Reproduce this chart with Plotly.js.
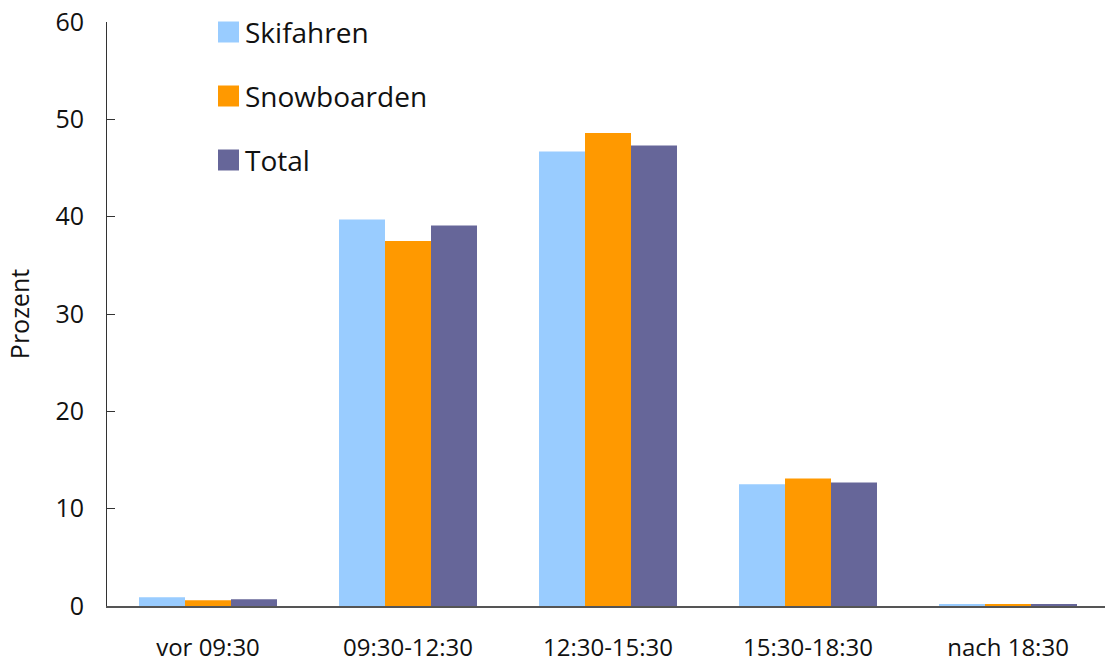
<!DOCTYPE html>
<html>
<head>
<meta charset="utf-8">
<script src="https://cdn.plot.ly/plotly-3.0.1.min.js"></script>
<style>html,body{margin:0;padding:0;background:#fff;}#chart{width:1105px;height:664px;}</style>
</head>
<body>
<div id="chart"></div>
<script>
var categories = ["vor 09:30", "09:30-12:30", "12:30-15:30", "15:30-18:30", "nach 18:30"];
var seriesNames = ["Skifahren", "Snowboarden", "Total"];
var skifahren = [0.9, 39.7, 46.7, 12.5, 0.2];
var snowboarden = [0.6, 37.5, 48.6, 13.1, 0.2];
var total = [0.7, 39.1, 47.3, 12.7, 0.2];
var colors = ["#99CCFF", "#FF9900", "#666699"];
var yTicks = [0, 10, 20, 30, 40, 50, 60];

var FONT = "Open Sans, sans-serif";
var values = [skifahren, snowboarden, total];
var traces = values.map(function (v, i) {
  return {
    type: "bar", x: categories, y: v, name: seriesNames[i],
    marker: {color: colors[i], line: {width: 0}},
    showlegend: false, hoverinfo: "x+y+name"
  };
});

// manual legend (paper coords; plot area spans px 107..1105 horizontally, 22..606 vertically)
var shapes = seriesNames.map(function (n, i) {
  var yc = 32 + i * 64;
  return {type: "rect", xref: "paper", yref: "paper",
    x0: (218 - 107) / 998, x1: (239 - 107) / 998,
    y0: (606 - (yc + 10.5)) / 584, y1: (606 - (yc - 10.5)) / 584,
    fillcolor: colors[i], line: {width: 0}};
});
var annotations = seriesNames.map(function (n, i) {
  var yc = 32 + i * 64;
  return {xref: "paper", yref: "paper", x: (243 - 107) / 998,
    y: (606 - yc) / 584, xanchor: "left", yanchor: "middle", showarrow: false,
    text: n, font: {family: FONT, size: 28, color: "#111"}};
});

var layout = {
  width: 1105, height: 664,
  margin: {l: 107, r: 0, t: 22, b: 58, pad: 0},
  paper_bgcolor: "#fff", plot_bgcolor: "#fff",
  barmode: "group", bargap: 0.31, bargroupgap: 0,
  font: {family: FONT, color: "#111"},
  xaxis: {
    range: [-0.505, 4.485], showgrid: false, zeroline: false,
    showline: true, linecolor: "#555", linewidth: 2, ticks: "",
    tickfont: {family: FONT, size: 24, color: "#111"}, ticklabelstandoff: 19
  },
  yaxis: {
    range: [0, 60], tickvals: yTicks, ticktext: yTicks.map(String),
    showgrid: false, zeroline: false, showline: true, linecolor: "#333", linewidth: 1,
    ticks: "inside", ticklen: 8, tickcolor: "#333", tickwidth: 1,
    tickfont: {family: FONT, size: 25, color: "#111"}, ticklabelstandoff: 17,
    title: {text: "Prozent", font: {family: FONT, size: 25, color: "#111"}, standoff: 18}
  },
  shapes: shapes, annotations: annotations
};

Plotly.newPlot("chart", traces, layout, {displayModeBar: false, staticPlot: true});
</script>
</body>
</html>
